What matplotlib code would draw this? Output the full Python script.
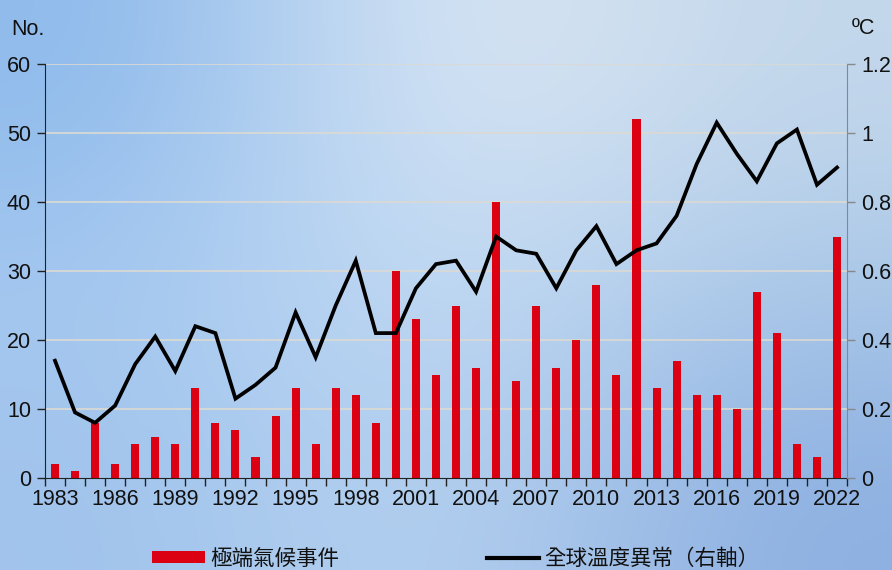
import numpy as np
import matplotlib.pyplot as plt
from matplotlib.patches import Patch
from matplotlib.lines import Line2D

years = list(range(1983, 2023))
events = [2, 1, 8, 2, 5, 6, 5, 13, 8, 7,
          3, 9, 13, 5, 13, 12, 8, 30, 23, 15,
          25, 16, 40, 14, 25, 16, 20, 28, 15, 52,
          13, 17, 12, 12, 10, 27, 21, 5, 3, 35]
temp_anom = [0.34, 0.19, 0.16, 0.21, 0.33, 0.41, 0.31, 0.44, 0.42, 0.23,
             0.27, 0.32, 0.48, 0.35, 0.50, 0.63, 0.42, 0.42, 0.55, 0.62,
             0.63, 0.54, 0.70, 0.66, 0.65, 0.55, 0.66, 0.73, 0.62, 0.66,
             0.68, 0.76, 0.91, 1.03, 0.94, 0.86, 0.97, 1.01, 0.85, 0.90]
label_years = list(range(1983, 2023, 3))
bar_label = '極端氣候事件'
line_label = '全球溫度異常（右軸）'

num_font = ['Liberation Sans Narrow', 'Liberation Sans', 'DejaVu Sans']
cjk_font = ['Noto Sans CJK TC', 'DejaVu Sans']

fig = plt.figure(figsize=(8.92, 5.70), dpi=100)

# sky-like gradient background
bg = np.array([
    [[140, 185, 235], [225, 235, 246], [195, 215, 235]],
    [[165, 200, 240], [200, 222, 245], [170, 200, 232]],
    [[160, 195, 236], [185, 212, 240], [140, 175, 225]],
]) / 255.0
bgax = fig.add_axes([0, 0, 1, 1], zorder=-10)
bgax.imshow(bg, aspect='auto', interpolation='bicubic', extent=[0, 1, 0, 1])
bgax.set_axis_off()

ax = fig.add_axes([0.0504, 0.1614, 0.8992, 0.7263])
ax.patch.set_alpha(0)
x = np.arange(len(years))

ax.set_ylim(0, 60)
ax.set_yticks(range(0, 61, 10))
for v in range(10, 61, 10):
    ax.axhline(v, color='#dcdad2', lw=1.2, zorder=0)
ax.bar(x, events, width=0.4, color='#dc0013', zorder=2)
ax.set_xlim(-0.5, len(years) - 0.5)

ax.set_xticks([years.index(y) for y in label_years])
ax.set_xticklabels([str(y) for y in label_years])
ax.set_xticks(np.arange(-0.5, len(years), 1), minor=True)
ax.tick_params(axis='x', which='major', length=0, pad=8)
ax.tick_params(axis='x', which='minor', length=6, width=1, color='#222222')
ax.tick_params(axis='y', length=6, width=1, color='#222222', pad=4)

for s in ['top', 'right']:
    ax.spines[s].set_visible(False)
ax.spines['left'].set_color('#222222')
ax.spines['bottom'].set_color('#222222')

ax2 = ax.twinx()
ax2.plot(x, temp_anom, color='black', lw=2.7, zorder=3, solid_joinstyle='miter')
ax2.set_ylim(0, 1.2)
ax2.set_yticks([0, 0.2, 0.4, 0.6, 0.8, 1.0, 1.2])
ax2.set_yticklabels(['0', '0.2', '0.4', '0.6', '0.8', '1', '1.2'])
ax2.tick_params(axis='y', length=6, width=1, color='#888888', pad=4)
for s in ['top', 'left', 'bottom']:
    ax2.spines[s].set_visible(False)
ax2.spines['right'].set_color('#888888')

for lab in ax.get_xticklabels() + ax.get_yticklabels() + ax2.get_yticklabels():
    lab.set_fontfamily(num_font)
    lab.set_fontsize(15.5)
    lab.set_color('#111111')

fig.text(0.013, 0.948, 'No.', family=num_font, fontsize=15.5, color='#111111', va='center')
fig.text(0.955, 0.950, 'ºC', family=num_font, fontsize=15.5, color='#111111', va='center')

handles = [Patch(facecolor='#dc0013', edgecolor='none'),
           Line2D([0], [0], color='black', lw=3)]
fig.legend(handles, [bar_label, line_label], loc='center', ncol=2,
           bbox_to_anchor=(0.511, 0.02), frameon=False,
           prop={'family': cjk_font, 'size': 15.5},
           handlelength=2.45, handleheight=0.5, handletextpad=0.25,
           columnspacing=6.85, labelcolor='#111111')

fig.savefig('out.png', dpi=100)
